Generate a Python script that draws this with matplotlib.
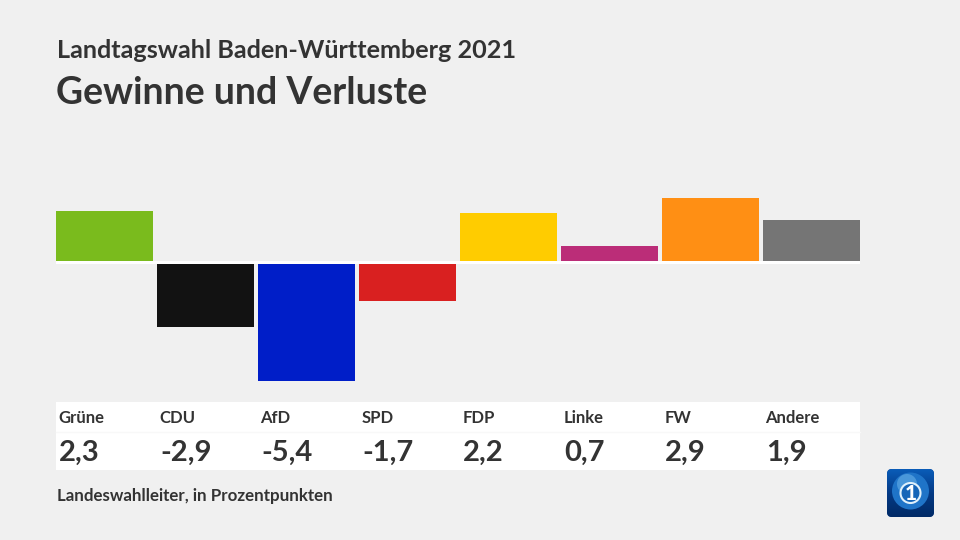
"""Landtagswahl BW 2021: Gewinne und Verluste."""
import matplotlib
matplotlib.use("Agg")
import matplotlib.pyplot as plt
from matplotlib.colors import LinearSegmentedColormap
from matplotlib.patches import Circle, FancyBboxPatch, Rectangle
import numpy as np

parties = ["Grüne", "CDU", "AfD", "SPD", "FDP", "Linke", "FW", "Andere"]
values = [2.3, -2.9, -5.4, -1.7, 2.2, 0.7, 2.9, 1.9]
labels = ["2,3", "-2,9", "-5,4", "-1,7", "2,2", "0,7", "2,9", "1,9"]
colors = ["#7abb1d", "#121212", "#001ec8", "#d92020", "#ffcc00", "#bb2d78", "#ff8f14", "#757575"]

BG = "#f0f0f0"
TEXT = "#333333"
PX_PER_UNIT = 21.67
GAP = 1.5 / PX_PER_UNIT  # weisse Nulllinie zwischen plus und minus

plt.rcParams["font.family"] = ["Lato", "DejaVu Sans"]
fig = plt.figure(figsize=(9.6, 5.4), dpi=100, facecolor=BG)

# Balken-Achse, Skala so gewaehlt dass x=i auf 104.5+101*i px liegt
ax = fig.add_axes([0, 0, 1, 1])
ax.set_xlim(-104.5 / 101, (960 - 104.5) / 101)
ax.set_ylim(-(540 - 262.5) / PX_PER_UNIT, 262.5 / PX_PER_UNIT)
ax.axis("off")
for i, (v, c) in enumerate(zip(values, colors)):
    ax.bar(i, v, width=97 / 101, bottom=GAP if v > 0 else -GAP, color=c, linewidth=0, zorder=3)

# Pixel-Achse fuer Tabelle, Texte und Logo
px = fig.add_axes([0, 0, 1, 1])
px.set_xlim(0, 960)
px.set_ylim(540, 0)
px.axis("off")
px.patch.set_alpha(0)

px.add_patch(Rectangle((56, 261), 804, 3, color="white", lw=0, zorder=1))
px.add_patch(Rectangle((56, 402), 804, 68, color="white", lw=0, zorder=1))
px.plot([56, 860], [431.5, 431.5], color="#f8f8f8", lw=1, zorder=2)

px.text(57, 51, "Landtagswahl Baden-Württemberg 2021", fontsize=18.15, fontweight="bold",
        color=TEXT, va="center", ha="left")
px.text(56, 93, "Gewinne und Verluste", fontsize=27, fontweight="bold",
        color=TEXT, va="center", ha="left")

for i, (p, l) in enumerate(zip(parties, labels)):
    x = 59 + 101 * i
    px.text(x - 0.5, 418, p, fontsize=12, fontweight="bold", color=TEXT, va="center", ha="left")
    px.text(x, 453, l, fontsize=21, fontweight="bold", color=TEXT, va="center", ha="left")

px.text(57, 496, "Landeswahlleiter, in Prozentpunkten", fontsize=12.2, fontweight="bold",
        color=TEXT, va="center", ha="left")

# Logo
box = FancyBboxPatch((891, 473), 39, 40, boxstyle="round,pad=4,rounding_size=5", lw=0, fc="#06408f", zorder=4)
px.add_patch(box)
grad = np.linspace(0, 1, 64)[:, None]
im = px.imshow(grad, extent=(887, 934, 517, 469), aspect="auto", zorder=5,
               cmap=LinearSegmentedColormap.from_list("logo", ["#0a5cb8", "#043a85", "#012a66"]))
im.set_clip_path(box)
px.set_xlim(0, 960)
px.set_ylim(540, 0)
px.add_patch(Circle((910.5, 491), 18.5, fc="#1f74c8", lw=0, zorder=6))
px.add_patch(Circle((907, 484), 10, fc="#6db4ea", lw=0, alpha=0.55, zorder=6))
px.add_patch(Circle((910.5, 493), 10, fc="#1565b8", ec="#dff0fb", lw=1.5, zorder=7))
px.text(910.5, 493, "1", fontsize=15, fontweight="black", color="white", ha="center", va="center", zorder=8)

fig.savefig("out.png", dpi=100, facecolor=BG)
